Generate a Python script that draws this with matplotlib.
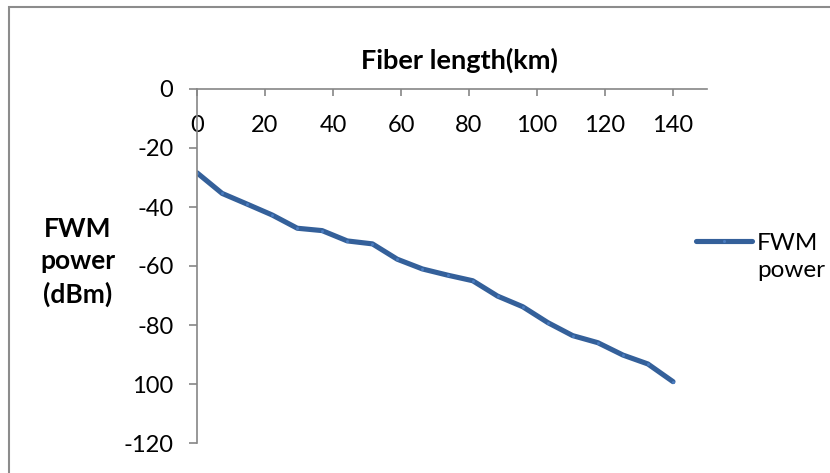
import numpy as np
import matplotlib.pyplot as plt
from matplotlib.patches import Rectangle

# fiber length (km) and FWM power (dBm)
length_km = [0, 7.4, 14.7, 22.1, 29.5, 36.8, 44.2, 51.6, 58.9, 66.3,
             73.7, 81.1, 88.4, 95.8, 103.2, 110.5, 117.9, 125.3, 132.6, 140]
fwm_dbm = [-28.4, -35.4, -39.0, -42.7, -47.2, -48.0, -51.5, -52.5, -57.7, -61.0,
           -63.1, -65.0, -70.2, -73.8, -79.2, -83.6, -86.0, -90.2, -93.2, -99.2]

x_ticks = [0, 20, 40, 60, 80, 100, 120, 140]
y_ticks = [0, -20, -40, -60, -80, -100, -120]
y_ticklabels = ['0', '-20', '-40', '-60', '-80', '100', '-120']

plt.rcParams['font.family'] = ['Lato', 'DejaVu Sans']
grey = '#868686'
blue = '#34609a'

W, H = 830, 473
fig = plt.figure(figsize=(W / 100, H / 100), dpi=100)
ax = fig.add_axes([197 / W, 1 - 443 / H, (707 - 197) / W, (443 - 89) / H])

# chart border
fig.patches.append(Rectangle((9 / W, -0.1), 1.2, 1 - 7 / H + 0.1, transform=fig.transFigure,
                             fill=False, edgecolor='#8c8c8c', linewidth=1.5))

ax.plot(length_km, fwm_dbm, color=blue, linewidth=3.7, solid_capstyle='round',
        marker='o', markersize=2.2, markerfacecolor='#4a7cc0', markeredgewidth=0,
        label='FWM')

ax.set_xlim(0, 150)
ax.set_ylim(-120, 0)
ax.set_xticks(x_ticks)
ax.set_yticks(y_ticks)
ax.set_yticklabels(y_ticklabels)

ax.spines['top'].set_visible(False)
ax.spines['right'].set_visible(False)
ax.spines['bottom'].set_position(('data', 0))
for s in ['left', 'bottom']:
    ax.spines[s].set_color(grey)
    ax.spines[s].set_linewidth(1.2)
ax.tick_params(axis='x', direction='out', length=5, width=1.2, color=grey,
               labelsize=17, pad=14)
ax.tick_params(axis='y', direction='out', length=6, width=1.2, color=grey,
               labelsize=17, pad=11)

fig.text(459 / W, 1 - 60 / H, 'Fiber length(km)', ha='center', va='center',
         fontsize=19.5, fontweight='bold')
fig.text(78 / W, 1 - 262 / H, 'FWM\npower\n(dBm)', ha='center', va='center',
         fontsize=19, fontweight='bold', linespacing=1.41)

# legend entry: line + "FWM", second word wrapped below as in the original
ax.legend(loc='center left', bbox_to_anchor=(696 / W, 1 - 243 / H),
          bbox_transform=fig.transFigure, frameon=False, fontsize=17.5,
          handlelength=2.3, handletextpad=0.2, borderpad=0, borderaxespad=0)
fig.text(757 / W, 1 - 270 / H, 'power', ha='left', va='center', fontsize=17.5)

fig.savefig('out.png', dpi=100)
